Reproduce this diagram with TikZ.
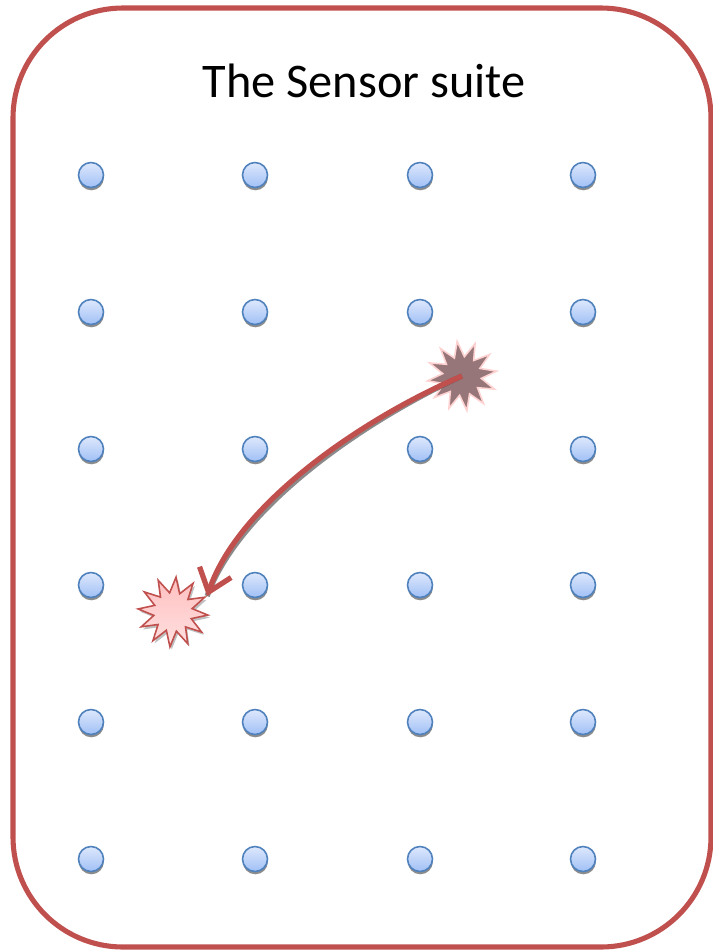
\documentclass[tikz,border=0pt]{standalone}
\usepackage{fontspec}
\setmainfont{Carlito}
\usetikzlibrary{shapes.geometric,shadows,arrows.meta}
\definecolor{suitered}{RGB}{192,80,77}
\definecolor{sensorline}{RGB}{79,129,189}
\definecolor{sensortop}{RGB}{222,232,252}
\definecolor{sensorbot}{RGB}{160,192,246}
\definecolor{hitfill}{RGB}{150,118,120}
\begin{document}
\begin{tikzpicture}[x=0.02cm, y=-0.02cm,
  sensor/.style={circle,draw=sensorline,line width=0.9pt,top color=sensortop,bottom color=sensorbot,
    minimum size=0.5cm,inner sep=0pt,
    drop shadow={shadow xshift=0.2pt,shadow yshift=-1.6pt,opacity=0.75,fill=gray!80!black}},
  blast/.style={star,star points=12,star point ratio=1.8,minimum size=1.4cm,inner sep=0pt,line width=0.9pt}]
\useasboundingbox (0,0) rectangle (713,951);
\draw[suitered,line width=2.9pt,rounded corners=2.2cm] (13,8) rectangle (711,947);
\node[anchor=base,font=\fontsize{27.5}{32}\selectfont] (title) at (364,97) {The Sensor suite};
% grid of sensors
\foreach \col/\x in {1/91,2/255,3/420,4/583}
  \foreach \row/\y in {1/175,2/312,3/449,4/585,5/722,6/859}
    \node[sensor] (s-\row-\col) at (\x,\y) {};
\node[blast,fill=hitfill,draw=pink!70,rotate=8] (hit) at (462,376) {};
\node[blast,top color=red!25,bottom color=red!12,draw=suitered,rotate=-5,
  drop shadow={shadow xshift=1pt,shadow yshift=-1.5pt,opacity=0.5,fill=gray}] (spot) at (173,612) {};
% path of the event
\draw[gray!70!black,line width=3pt,opacity=0.7,shift={(1.5,2.5)}] (hit.center) .. controls (370,415) and (240,500) .. (spot.30);
\draw[suitered,line width=3pt,-{Straight Barb[length=12pt,width=19pt,line width=3pt]}] (hit.center) .. controls (370,415) and (240,500) .. (spot.30);
\end{tikzpicture}
\end{document}
